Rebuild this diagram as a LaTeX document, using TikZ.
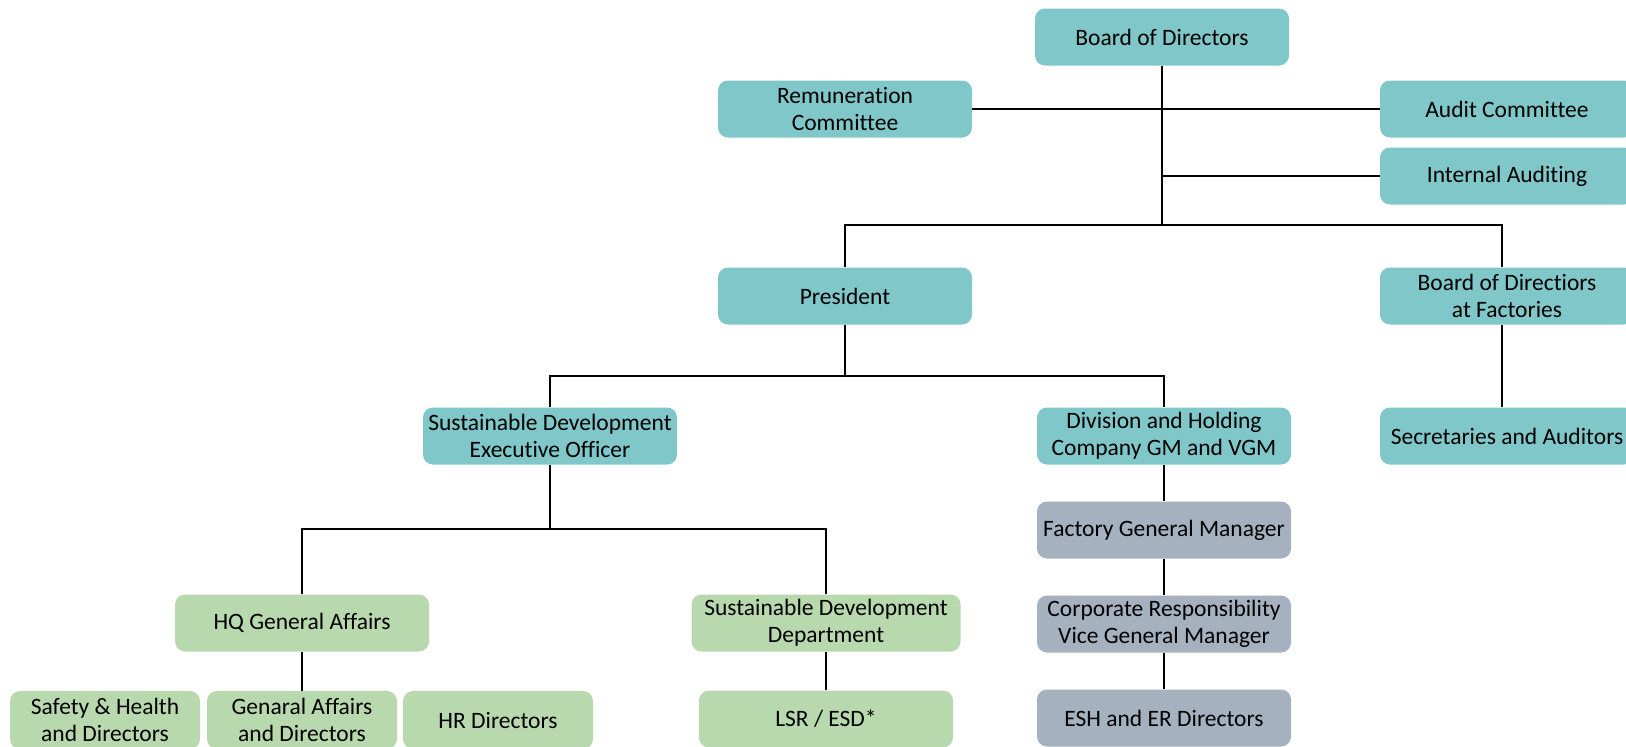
\documentclass[tikz,border=0pt]{standalone}
\usepackage{fontspec}
\setmainfont[Ligatures={NoCommon}]{Carlito}
\definecolor{teal1}{RGB}{127,199,201}
\definecolor{green1}{RGB}{184,217,173}
\definecolor{gray1}{RGB}{165,177,191}
\begin{document}
\begin{tikzpicture}[x=1pt,y=-1pt,
  box/.style={rounded corners=10pt,minimum width=254pt,minimum height=57pt,inner sep=0pt,align=center,font=\fontsize{23.5}{27}\selectfont},
  tbox/.style={box,fill=teal1},
  gbox/.style={box,fill=green1},
  sbox/.style={box,fill=gray1},
  conn/.style={draw=black,line width=2pt}]
\useasboundingbox (0,0) rectangle (1626,747);
\clip (0,0) rectangle (1626,747);
\node[tbox] (bod) at (1162,37) {Board of Directors};
\node[tbox] (rem) at (845,109) {Remuneration\\Committee};
\node[tbox] (aud) at (1507,109) {Audit Committee};
\node[tbox] (ia) at (1507,176) {Internal Auditing};
\node[tbox] (pres) at (845,296) {President};
\node[tbox] (bdf) at (1507,296) {Board of Directiors\\at Factories};
\node[tbox] (sdeo) at (550,436) {Sustainable Development\\Executive Officer};
\node[tbox] (div) at (1164,436) {Division and Holding\\Company GM and VGM};
\node[tbox] (sec) at (1507,436) {Secretaries and Auditors};
\node[gbox] (hq) at (302,623) {HQ General Affairs};
\node[gbox,minimum width=269pt] (sdd) at (826,623) {Sustainable Development\\Department};
\node[gbox,minimum width=190pt,minimum height=58pt] (sh) at (105,720) {Safety \& Health\\and Directors};
\node[gbox,minimum width=190pt,minimum height=58pt] (ga) at (302,720) {Genaral Affairs\\and Directors};
\node[gbox,minimum width=190pt,minimum height=58pt] (hr) at (498,720) {HR Directors};
\node[gbox] (lsr) at (826,719) {LSR / ESD*};
\node[sbox] (fgm) at (1164,530) {Factory General Manager};
\node[sbox] (cr) at (1164,624) {Corporate Responsibility\\Vice General Manager};
\node[sbox] (esh) at (1164,718) {ESH and ER Directors};
\coordinate (b1) at (0,225);
\coordinate (b2) at (0,376);
\coordinate (b3) at (0,529);
\coordinate (bfx) at (1502,0);
\draw[conn] (rem.east) -- (aud.west);
\draw[conn] (bod.south) -- (bod.south |- b1);
\draw[conn] (bod.south |- ia.west) -- (ia.west);
\draw[conn] (pres.north) |- (bfx |- b1) -- (bfx |- bdf.north);
\draw[conn] (bfx |- bdf.south) -- (bfx |- sec.north);
\draw[conn] (pres.south) -- (pres.south |- b2);
\draw[conn] (sdeo.north) |- (div.north |- b2) -- (div.north);
\draw[conn] (sdeo.south) -- (sdeo.south |- b3);
\draw[conn] (hq.north) |- (sdd.north |- b3) -- (sdd.north);
\draw[conn] (hq.south) -- (ga.north);
\draw[conn] (sdd.south) -- (lsr.north);
\draw[conn] (div.south) -- (fgm.north);
\draw[conn] (fgm.south) -- (cr.north);
\draw[conn] (cr.south) -- (esh.north);
\end{tikzpicture}
\end{document}
